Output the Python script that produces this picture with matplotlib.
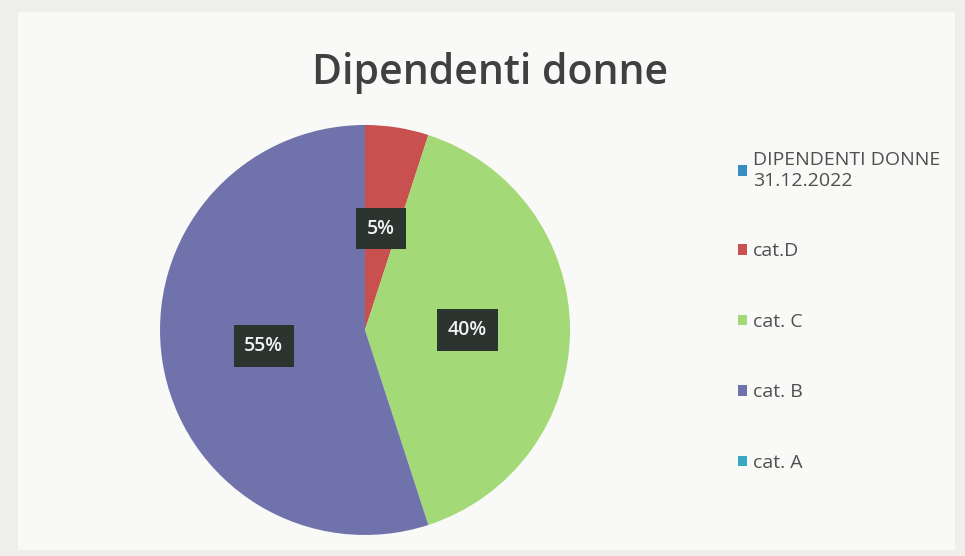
import matplotlib.pyplot as plt
from matplotlib.patches import Patch, Rectangle

labels = ["DIPENDENTI DONNE\n31.12.2022", "cat.D", "cat. C", "cat. B", "cat. A"]
values = [0, 5, 40, 55, 0]
colors = ["#3a8cc4", "#c8504e", "#a4d977", "#7073ab", "#38a9c2"]

plt.rcParams['font.family'] = ['Open Sans', 'DejaVu Sans']

fig = plt.figure(figsize=(9.65, 5.56), dpi=100)
fig.patch.set_facecolor("#eeeeec")
fig.patches.append(Rectangle((18 / 965, 6 / 556), 937 / 965, 538 / 556,
                             transform=fig.transFigure, facecolor="#f9f9f7",
                             edgecolor="none", zorder=-5))

fig.text(0.508, 0.868, "Dipendenti donne", ha="center", va="center",
         fontsize=29.5, fontweight="semibold", color="#404040")

ax = fig.add_axes([0.1658, 0.0378, 0.4249, 0.7374])


def fmt_pct(p):
    return "%d%%" % round(p) if p > 0.5 else ""


wedges, texts, autotexts = ax.pie(values, colors=colors, startangle=90, counterclock=False,
                                  autopct=fmt_pct, pctdistance=0.5,
                                  wedgeprops=dict(linewidth=0))
for t in autotexts:
    t.set_color("#f2f2f2")
    t.set_fontsize(14)
    t.set_fontweight("semibold")
    t.set_bbox(dict(boxstyle="square,pad=0.55", facecolor="#2b342f", edgecolor="none"))
ax.set_xlim(-1, 1)
ax.set_ylim(-1, 1)
ax.set_aspect("equal")

handles = [Patch(facecolor=c, edgecolor="none") for c in colors]
fig.legend(handles, labels, loc="upper left", bbox_to_anchor=(0.747, 0.76),
           frameon=False, fontsize=14, labelcolor="#505050",
           handlelength=0.45, handleheight=0.45, handletextpad=0.3,
           labelspacing=2.7)

fig.savefig("out.png", dpi=100, facecolor=fig.get_facecolor())
